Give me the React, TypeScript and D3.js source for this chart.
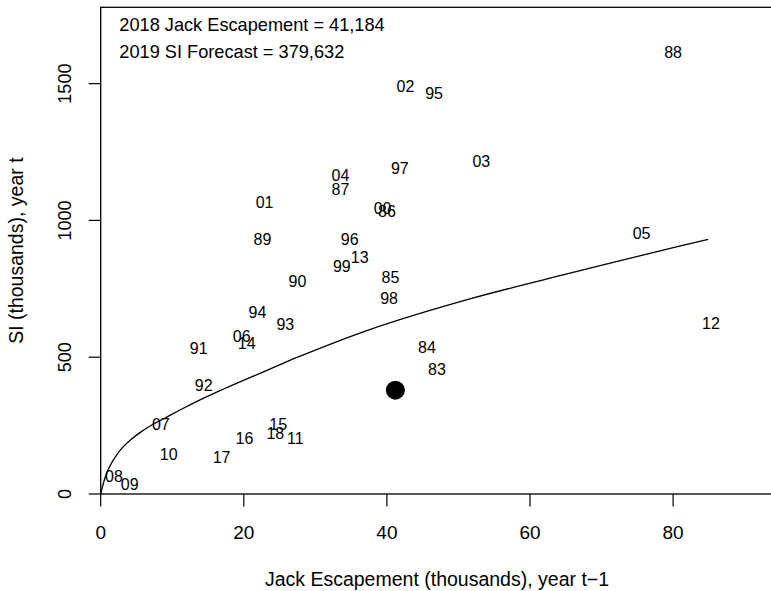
import React, { useEffect, useRef } from 'react';
import * as d3 from 'd3';

// Brood years (two-digit labels) with jack escapement (thousands) in year t-1 and SI (thousands) in year t
const years = ['83', '84', '85', '86', '87', '88', '89', '90', '91', '92', '93', '94', '95', '96', '97', '98', '99',
  '00', '01', '02', '03', '04', '05', '06', '07', '08', '09', '10', '11', '12', '13', '14', '15', '16', '17', '18'];
const jack = [47.0, 45.6, 40.5, 40.0, 33.5, 80.0, 22.6, 27.5, 13.7, 14.4, 25.8, 21.9, 46.6, 34.8, 41.8, 40.3, 33.7,
  39.4, 22.9, 42.6, 53.2, 33.5, 75.6, 19.7, 8.4, 1.86, 4.05, 9.5, 27.2, 85.3, 36.2, 20.4, 24.8, 20.1, 16.9, 24.4];
const si = [457, 535, 792, 1032, 1113, 1614, 933, 776, 532, 397, 620, 663, 1464, 933, 1190, 717, 831,
  1044, 1068, 1489, 1215, 1166, 953, 577, 255, 64, 37, 146, 204, 624, 867, 551, 255, 204, 134, 222];

// Fitted curve
const fitX = [0, 0.56, 1.02, 1.72, 2.88, 4.28, 5.68, 7.31, 8.94, 11.08, 13.88, 16.67, 19.47, 22.27, 25.06, 27.6,
  37.6, 51.6, 65.6, 79.6, 84.9];
const fitY = [0, 56, 88, 122, 165, 200, 228, 255, 277, 307, 344, 378, 410, 441, 473, 501,
  601, 713, 807, 898, 931];

// 2019 forecast point
const forecastJack = 41.184;
const forecastSI = 379.632;

const xTicks = [0, 20, 40, 60, 80];
const yTicks = [0, 500, 1000, 1500];
const legendLines = ['2018 Jack Escapement = 41,184', '2019 SI Forecast = 379,632'];

const FONT = '"Liberation Sans", Arial, Helvetica, sans-serif';

const App: React.FC = () => {
  const svgRef = useRef<SVGSVGElement>(null);

  useEffect(() => {
    if (!svgRef.current) return;
    d3.select(svgRef.current).selectAll('*').remove();

    const W = 771;
    const H = 591;
    const left = 100.7;
    const top = 7.3;
    const bottom = 494;

    const svg = d3.select(svgRef.current)
      .attr('width', W)
      .attr('height', H)
      .attr('font-family', FONT);

    const x = d3.scaleLinear().domain([0, 94]).range([left, left + 94 * 7.155]);
    const y = d3.scaleLinear().domain([0, 1779]).range([bottom, top]);

    // box
    svg.append('rect')
      .attr('x', x(0))
      .attr('y', y(1779))
      .attr('width', x(94) - x(0))
      .attr('height', y(0) - y(1779))
      .attr('fill', 'none')
      .attr('stroke', '#000')
      .attr('stroke-width', 1.3);

    // x axis
    const xAxis = svg.append('g');
    xAxis.selectAll('line')
      .data(xTicks)
      .enter().append('line')
      .attr('x1', d => x(d))
      .attr('x2', d => x(d))
      .attr('y1', bottom)
      .attr('y2', bottom + 12.5)
      .attr('stroke', '#000')
      .attr('stroke-width', 1.2);
    xAxis.selectAll('text')
      .data(xTicks)
      .enter().append('text')
      .attr('x', d => x(d))
      .attr('y', 538.5)
      .attr('text-anchor', 'middle')
      .attr('font-size', 19)
      .text(d => d);

    // y axis
    const yAxis = svg.append('g');
    yAxis.selectAll('line')
      .data(yTicks)
      .enter().append('line')
      .attr('x1', left - 12)
      .attr('x2', left)
      .attr('y1', d => y(d))
      .attr('y2', d => y(d))
      .attr('stroke', '#000')
      .attr('stroke-width', 1.2);
    yAxis.selectAll('text')
      .data(yTicks)
      .enter().append('text')
      .attr('transform', d => `translate(70.5,${y(d)}) rotate(-90)`)
      .attr('text-anchor', 'middle')
      .attr('font-size', 18)
      .text(d => d);

    // axis titles
    svg.append('text')
      .attr('x', (x(0) + x(94)) / 2)
      .attr('y', 586)
      .attr('text-anchor', 'middle')
      .attr('font-size', 19.5)
      .text('Jack Escapement (thousands), year t\u22121');

    svg.append('text')
      .attr('transform', `translate(23,${(top + bottom) / 2}) rotate(-90)`)
      .attr('text-anchor', 'middle')
      .attr('font-size', 19.5)
      .text('SI (thousands), year t');

    // fitted curve
    const line = d3.line<number>()
      .x(i => x(fitX[i]))
      .y(i => y(fitY[i]))
      .curve(d3.curveCatmullRom.alpha(0.5));
    svg.append('path')
      .datum(d3.range(fitX.length))
      .attr('fill', 'none')
      .attr('stroke', '#000')
      .attr('stroke-width', 1.3)
      .attr('d', line);

    // year labels
    svg.append('g')
      .selectAll('text')
      .data(years)
      .enter().append('text')
      .attr('x', (d, i) => x(jack[i]))
      .attr('y', (d, i) => y(si[i]))
      .attr('dy', '0.36em')
      .attr('text-anchor', 'middle')
      .attr('font-size', 16)
      .text(d => d);

    // forecast point
    svg.append('circle')
      .attr('cx', x(forecastJack))
      .attr('cy', y(forecastSI))
      .attr('r', 9.5)
      .attr('fill', '#000');

    // legend text
    svg.append('g')
      .selectAll('text')
      .data(legendLines)
      .enter().append('text')
      .attr('x', 119.3)
      .attr('y', (d, i) => 24 + i * 27.7)
      .attr('dy', '0.36em')
      .attr('font-size', 18.2)
      .text(d => d);
  }, []);

  return (
    <div style={{ position: 'absolute', left: 0, top: 0, width: 771, height: 591, overflow: 'hidden', background: '#fff' }}>
      <svg ref={svgRef} style={{ display: 'block' }}></svg>
    </div>
  );
};

export default App;
